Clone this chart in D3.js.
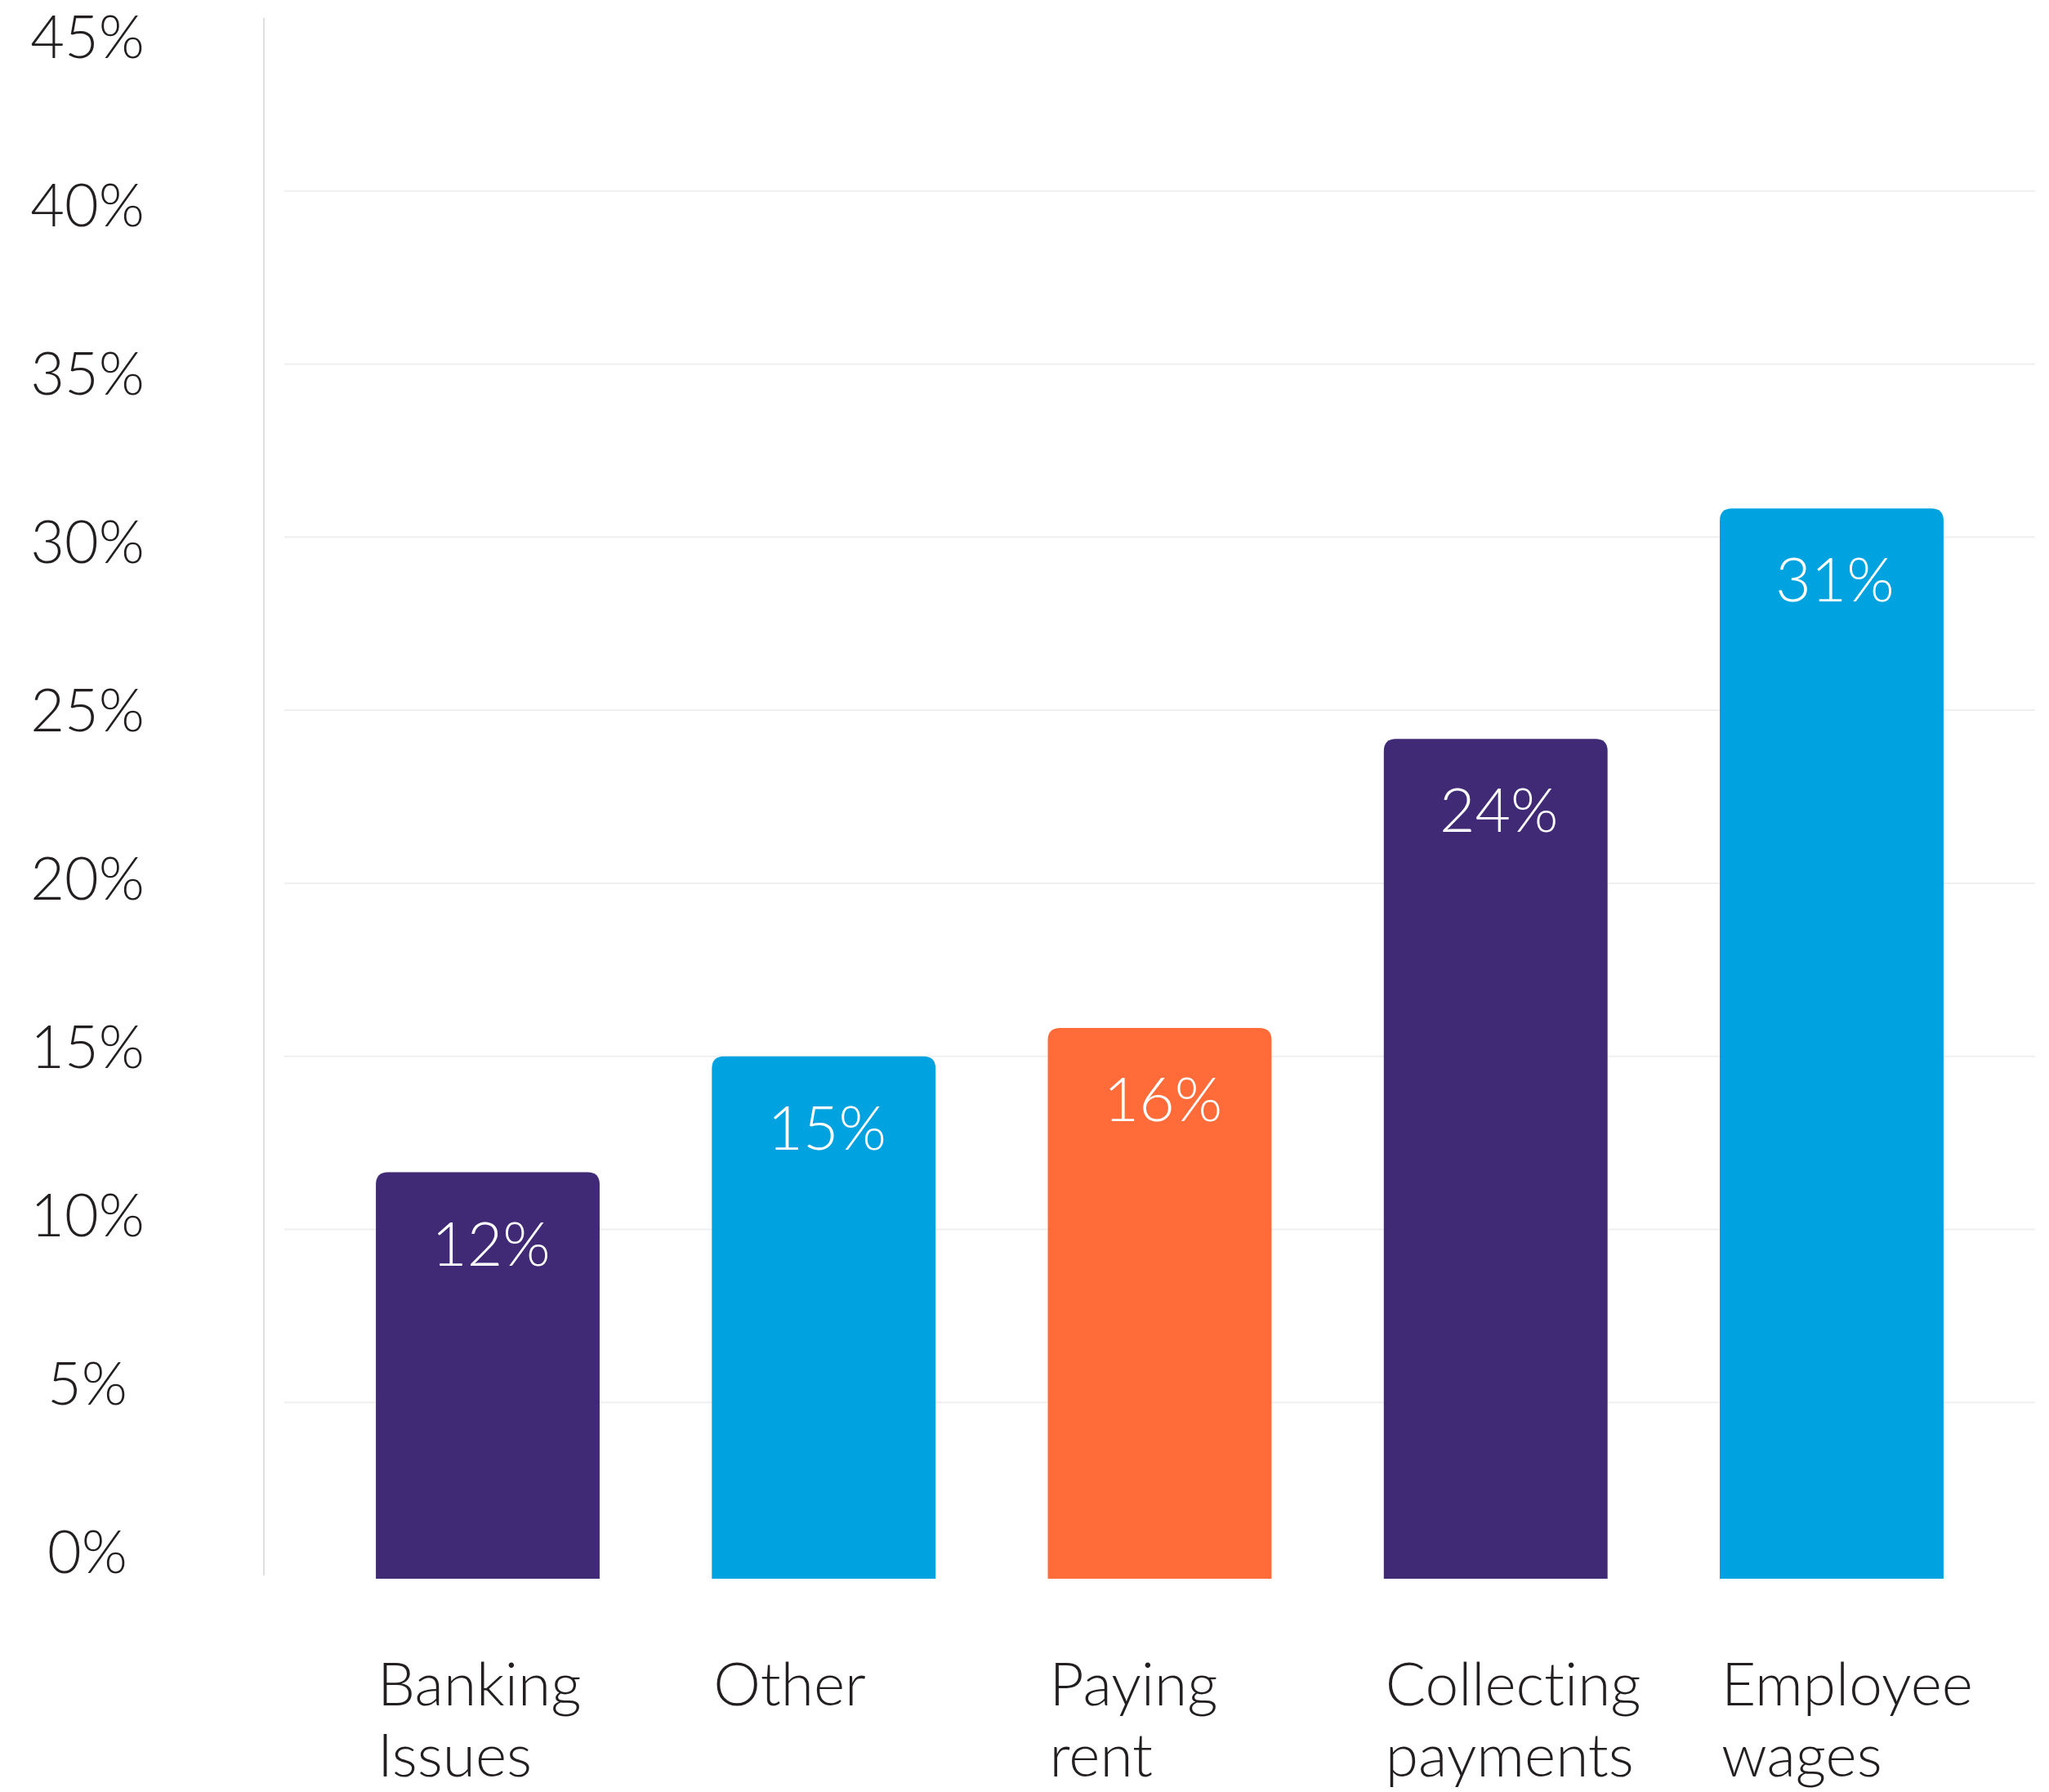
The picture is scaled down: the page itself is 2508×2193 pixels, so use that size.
<!DOCTYPE html>
<html>
<head>
<meta charset="utf-8">
<script src="https://cdn.jsdelivr.net/npm/d3@7"></script>
<style>
    body { margin: 0; background: #fff; }
    text { font-family: Lato, "Noto Sans", sans-serif; font-weight: 300; font-variant-ligatures: none; }
</style>
</head>
<body>
<div id="chart"></div>
<script>
// chart data
const categories = ['Banking Issues', 'Other', 'Paying rent', 'Collecting payments', 'Employee wages'];
const values = [11.65, 15.0, 15.82, 24.17, 30.83];
const valueLabels = ['12%', '15%', '16%', '24%', '31%'];
const barColors = ['#412a75', '#00a3df', '#ff6b39', '#412a75', '#00a3df'];
const tickValues = [0, 5, 10, 15, 20, 25, 30, 35, 40, 45];
const tickLabels = ['0%', '5%', '10%', '15%', '20%', '25%', '30%', '35%', '40%', '45%'];

const width = 2508,
    height = 2193;

const svg = d3.select('#chart').append('svg')
    .attr('width', width)
    .attr('height', height);

// scales
const y = d3.scaleLinear().domain([0, 45]).range([1928, 22]);
// the tick texts sit on a slightly tighter scale than the gridlines
const yLabel = d3.scaleLinear().domain([0, 45]).range([1925, 71]);
const x = d3.scaleBand()
    .domain(categories)
    .range([391.4, 2447.6])
    .paddingInner(0.334)
    .paddingOuter(0.167);

// gridlines (no line at 0 or 45)
svg.append('g')
    .selectAll('line')
    .data(tickValues.filter(d => d > 0 && d < 45))
    .enter()
    .append('line')
    .attr('x1', 348)
    .attr('x2', 2491)
    .attr('y1', d => y(d))
    .attr('y2', d => y(d))
    .style('stroke', '#efefef')
    .style('stroke-width', 2);

// y axis line
svg.append('line')
    .attr('x1', 323)
    .attr('x2', 323)
    .attr('y1', y(45))
    .attr('y2', y(0))
    .style('stroke', '#dedede')
    .style('stroke-width', 2);

// y tick labels
svg.append('g')
    .selectAll('text')
    .data(tickValues)
    .enter()
    .append('text')
    .attr('x', 107)
    .attr('y', d => yLabel(d))
    .attr('text-anchor', 'middle')
    .style('font-size', '72px')
    .style('fill', '#231f20')
    .text((d, i) => tickLabels[i]);

// bars with rounded top corners
const r = 15;
function barPath(d, i) {
    const x0 = x(d), x1 = x(d) + x.bandwidth();
    const top = y(values[i]), bottom = y(0) + 4;
    return 'M' + x0 + ',' + bottom +
        'L' + x0 + ',' + (top + r) +
        'Q' + x0 + ',' + top + ' ' + (x0 + r) + ',' + top +
        'L' + (x1 - r) + ',' + top +
        'Q' + x1 + ',' + top + ' ' + x1 + ',' + (top + r) +
        'L' + x1 + ',' + bottom + 'Z';
}

svg.append('g')
    .selectAll('path')
    .data(categories)
    .enter()
    .append('path')
    .attr('d', barPath)
    .style('fill', (d, i) => barColors[i]);

// value labels inside bars
svg.append('g')
    .selectAll('text')
    .data(categories)
    .enter()
    .append('text')
    .attr('x', d => x(d) + x.bandwidth() / 2 + 4)
    .attr('y', (d, i) => y(values[i]) + 114)
    .attr('text-anchor', 'middle')
    .style('font-size', '75px')
    .style('fill', '#ffffff')
    .text((d, i) => valueLabels[i]);

// category labels, two lines each
const catLabels = svg.append('g')
    .selectAll('text')
    .data(categories)
    .enter()
    .append('text')
    .attr('x', d => x(d) + 2)
    .attr('y', 2087)
    .style('font-size', '73px')
    .style('fill', '#231f20');

catLabels.selectAll('tspan')
    .data(d => d.split(' '))
    .enter()
    .append('tspan')
    .attr('x', function () { return d3.select(this.parentNode).attr('x'); })
    .attr('dy', (d, i) => i === 0 ? 0 : 87)
    .text(d => d);
</script>
</body>
</html>
